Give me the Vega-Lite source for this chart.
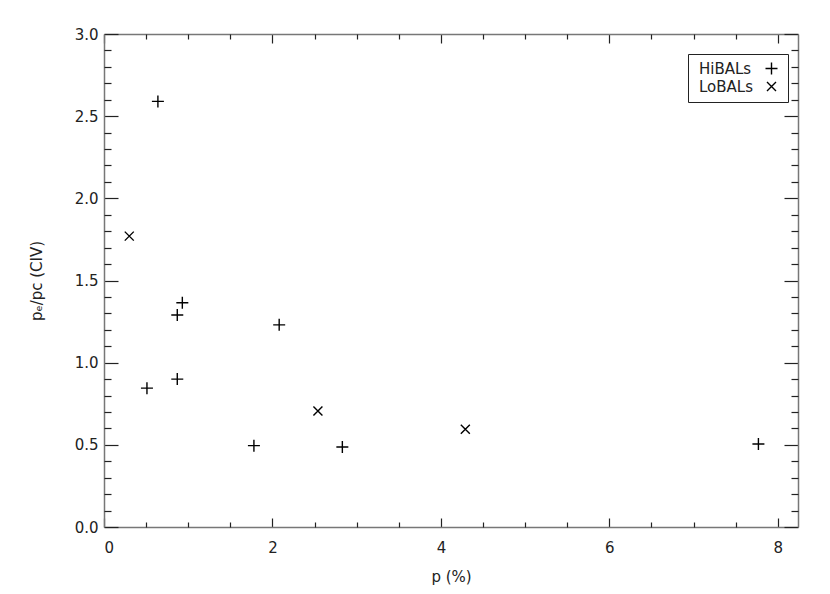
{
  "$schema": "https://vega.github.io/schema/vega-lite/v6.json",
  "width": 694,
  "height": 493,
  "autosize": "none",
  "padding": {"left": 104, "top": 34, "right": 33, "bottom": 67},
  "background": "white",
  "config": {
    "view": {"stroke": null},
    "axis": {
      "grid": false,
      "domainColor": "#777",
      "domainWidth": 1.5,
      "tickColor": "#222",
      "tickWidth": 1.2,
      "labelFont": "DejaVu Sans",
      "labelFontSize": 15,
      "labelColor": "#222",
      "titleFont": "DejaVu Sans",
      "titleFontSize": 15,
      "titleFontWeight": "normal",
      "titleColor": "#222"
    }
  },
  "data": {
    "values": [
      {"p": 0.64, "ratio": 2.59, "type": "HiBALs"},
      {"p": 0.93, "ratio": 1.365, "type": "HiBALs"},
      {"p": 0.87, "ratio": 1.29, "type": "HiBALs"},
      {"p": 2.08, "ratio": 1.23, "type": "HiBALs"},
      {"p": 0.87, "ratio": 0.9, "type": "HiBALs"},
      {"p": 0.51, "ratio": 0.845, "type": "HiBALs"},
      {"p": 1.78, "ratio": 0.495, "type": "HiBALs"},
      {"p": 2.83, "ratio": 0.487, "type": "HiBALs"},
      {"p": 7.77, "ratio": 0.505, "type": "HiBALs"},
      {"p": 0.3, "ratio": 1.77, "type": "LoBALs"},
      {"p": 2.54, "ratio": 0.706, "type": "LoBALs"},
      {"p": 4.29, "ratio": 0.595, "type": "LoBALs"}
    ]
  },
  "layer": [
    {
      "mark": {"type": "point", "filled": false, "color": "black", "strokeWidth": 1.4, "opacity": 1, "size": 144},
      "encoding": {
        "x": {
          "field": "p", "type": "quantitative",
          "scale": {"domain": [0, 8.24], "nice": false, "zero": false},
          "axis": {"orient": "bottom", "values": [0, 2, 4, 6, 8], "format": "d", "tickSize": -9, "labelPadding": 22, "title": "p (%)", "titlePadding": 14}
        },
        "y": {
          "field": "ratio", "type": "quantitative",
          "scale": {"domain": [0, 3], "nice": false, "zero": false},
          "axis": {"orient": "left", "values": [0, 0.5, 1, 1.5, 2, 2.5, 3], "format": ".1f", "tickSize": -14, "labelPadding": 20, "title": "pₑ/pᴄ (CIV)", "titlePadding": 30}
        },
        "shape": {
          "field": "type", "type": "nominal",
          "scale": {"domain": ["HiBALs", "LoBALs"], "range": ["M-1,0L1,0M0,-1L0,1", "M-0.75,-0.75L0.75,0.75M-0.75,0.75L0.75,-0.75"]},
          "legend": {
            "title": null,
            "orient": "none",
            "legendX": 584,
            "legendY": 20,
            "strokeColor": "#222",
            "padding": 7,
            "rowPadding": 1,
            "symbolSize": 144,
            "symbolStrokeColor": "black",
            "symbolStrokeWidth": 1.4,
            "symbolFillColor": "transparent",
            "symbolOffset": 69,
            "labelOffset": -80,
            "labelFont": "DejaVu Sans",
            "labelFontSize": 15,
            "labelColor": "#222"
          }
        }
      }
    },
    {
      "mark": {"type": "point", "opacity": 0},
      "encoding": {
        "x": {"field": "p", "type": "quantitative", "axis": {"orient": "bottom", "values": [0.5, 1, 1.5, 2.5, 3, 3.5, 4.5, 5, 5.5, 6.5, 7, 7.5], "labels": false, "domain": false, "tickSize": -5, "title": null}},
        "y": {"field": "ratio", "type": "quantitative", "axis": {"orient": "left", "values": [0.1, 0.2, 0.3, 0.4, 0.6, 0.7, 0.8, 0.9, 1.1, 1.2, 1.3, 1.4, 1.6, 1.7, 1.8, 1.9, 2.1, 2.2, 2.3, 2.4, 2.6, 2.7, 2.8, 2.9], "labels": false, "domain": false, "tickSize": -7, "title": null}}
      }
    },
    {
      "mark": {"type": "point", "opacity": 0},
      "encoding": {
        "x": {"field": "p", "type": "quantitative", "axis": {"orient": "top", "values": [0, 2, 4, 6, 8], "labels": false, "tickSize": -9, "title": null}},
        "y": {"field": "ratio", "type": "quantitative", "axis": {"orient": "right", "values": [0, 0.5, 1, 1.5, 2, 2.5, 3], "labels": false, "tickSize": -14, "title": null}}
      }
    },
    {
      "mark": {"type": "point", "opacity": 0},
      "encoding": {
        "x": {"field": "p", "type": "quantitative", "axis": {"orient": "top", "values": [0.5, 1, 1.5, 2.5, 3, 3.5, 4.5, 5, 5.5, 6.5, 7, 7.5], "labels": false, "domain": false, "tickSize": -5, "title": null}},
        "y": {"field": "ratio", "type": "quantitative", "axis": {"orient": "right", "values": [0.1, 0.2, 0.3, 0.4, 0.6, 0.7, 0.8, 0.9, 1.1, 1.2, 1.3, 1.4, 1.6, 1.7, 1.8, 1.9, 2.1, 2.2, 2.3, 2.4, 2.6, 2.7, 2.8, 2.9], "labels": false, "domain": false, "tickSize": -7, "title": null}}
      }
    }
  ],
  "resolve": {"axis": {"x": "independent", "y": "independent"}}
}
